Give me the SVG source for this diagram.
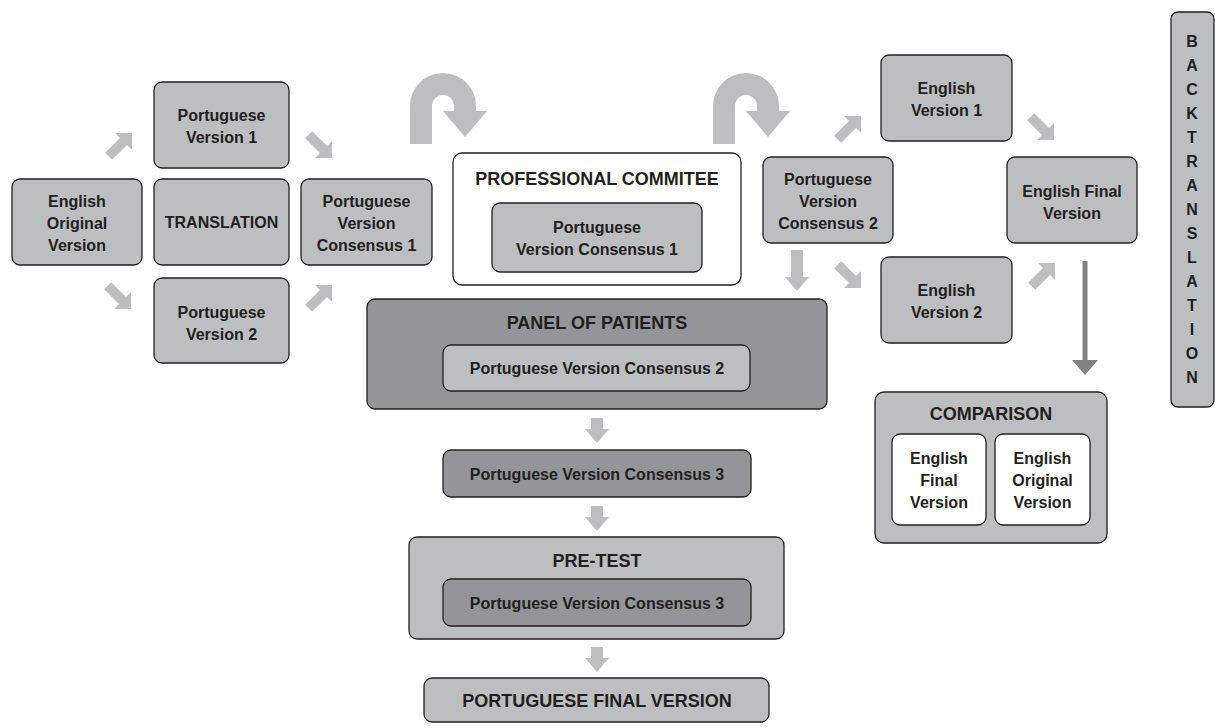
<svg xmlns="http://www.w3.org/2000/svg" width="1215" height="728" viewBox="0 0 1215 728">
<defs>
<style>
.bx{fill:#bcbec0;stroke:#231f20;stroke-width:1.3}
.dk{fill:#939598;stroke:#231f20;stroke-width:1.3}
.wh{fill:#ffffff;stroke:#231f20;stroke-width:1.3}
text{font-family:"Liberation Sans",Arial,sans-serif;font-weight:bold;fill:#231f20;text-anchor:middle}
.t{font-size:16px}
.h{font-size:18px}
.ar{fill:#bcbec0}
.ad{fill:#808285}
</style>
<path id="diag" d="M-33,-5 L-12,-5 L-12,-12 L0,0 L-12,12 L-12,5 L-33,5 Z"/>
<path id="uturn" d="M410,144 L410,106 A33,33 0 0 1 476,106 L476,111 L487,111 L465,137 L443,111 L454,111 L454,106 A11,11 0 0 0 432,106 L432,144 Z"/>
</defs>
<rect width="1215" height="728" fill="#ffffff"/>

<g id="connectors">
<use href="#diag" class="ar" transform="translate(132,133) rotate(-45)"/>
<use href="#diag" class="ar" transform="translate(332,158) rotate(45)"/>
<use href="#diag" class="ar" transform="translate(131,309) rotate(45)"/>
<use href="#diag" class="ar" transform="translate(332,285) rotate(-45)"/>
<use href="#diag" class="ar" transform="translate(861,116) rotate(-45)"/>
<use href="#diag" class="ar" transform="translate(1054,140) rotate(45)"/>
<use href="#diag" class="ar" transform="translate(861,288) rotate(45)"/>
<use href="#diag" class="ar" transform="translate(1055,263) rotate(-45)"/>
<use href="#uturn" class="ar"/>
<use href="#uturn" class="ar" transform="translate(303,0)"/>
<path class="ar" d="M791,250 L803,250 L803,277 L809,277 L797,291 L785,277 L791,277 Z"/>
<path class="ar" d="M591,418 L603,418 L603,429 L609,429 L597,443 L585,429 L591,429 Z"/>
<path class="ar" d="M591,506 L603,506 L603,517 L609,517 L597,531 L585,517 L591,517 Z"/>
<path class="ar" d="M591,647 L603,647 L603,658 L609,658 L597,672 L585,658 L591,658 Z"/>
<path class="ad" d="M1082.5,261 L1087.5,261 L1087.5,360 L1098,360 L1085,375 L1072,360 L1082.5,360 Z"/>
</g>

<g id="eov"><rect class="bx" x="12" y="179" width="130" height="86" rx="8"/>
<text class="t" x="77" y="207">English</text><text class="t" x="77" y="229">Original</text><text class="t" x="77" y="251">Version</text></g>
<g id="pv1"><rect class="bx" x="154" y="82" width="135" height="86" rx="8"/>
<text class="t" x="221.5" y="121">Portuguese</text><text class="t" x="221.5" y="143">Version 1</text></g>
<g id="translation"><rect class="bx" x="154" y="179" width="135" height="86" rx="8"/>
<text class="t" x="221.5" y="228">TRANSLATION</text></g>
<g id="pv2"><rect class="bx" x="154" y="278" width="135" height="85" rx="8"/>
<text class="t" x="221.5" y="318">Portuguese</text><text class="t" x="221.5" y="340">Version 2</text></g>
<g id="pvc1"><rect class="bx" x="301" y="179" width="131" height="86" rx="8"/>
<text class="t" x="366.5" y="207">Portuguese</text><text class="t" x="366.5" y="229">Version</text><text class="t" x="366.5" y="251">Consensus 1</text></g>

<g id="committee"><rect class="wh" x="453" y="153" width="288" height="132" rx="9"/>
<text class="h" x="597" y="185">PROFESSIONAL COMMITEE</text>
<rect class="bx" x="492" y="203" width="210" height="69" rx="8"/>
<text class="t" x="597" y="233">Portuguese</text><text class="t" x="597" y="255">Version Consensus 1</text></g>

<g id="panel"><rect class="dk" x="367" y="299" width="460" height="110" rx="8"/>
<text class="h" x="597" y="329">PANEL OF PATIENTS</text>
<rect class="bx" x="443" y="345" width="307" height="46" rx="8"/>
<text class="t" x="597" y="374">Portuguese Version Consensus 2</text></g>

<g id="pvc3"><rect class="dk" x="443" y="450" width="308" height="47" rx="8"/>
<text class="t" x="597" y="480">Portuguese Version Consensus 3</text></g>

<g id="pretest"><rect class="bx" x="409" y="537" width="375" height="102" rx="8"/>
<text class="h" x="597" y="567">PRE-TEST</text>
<rect class="dk" x="443" y="579" width="308" height="47" rx="8"/>
<text class="t" x="597" y="609">Portuguese Version Consensus 3</text></g>

<g id="final"><rect class="bx" x="424" y="678" width="345" height="44" rx="8"/>
<text class="h" x="597" y="707">PORTUGUESE FINAL VERSION</text></g>

<g id="pvc2"><rect class="bx" x="763" y="157" width="130" height="86" rx="8"/>
<text class="t" x="828" y="185">Portuguese</text><text class="t" x="828" y="207">Version</text><text class="t" x="828" y="229">Consensus 2</text></g>
<g id="ev1"><rect class="bx" x="881" y="55" width="131" height="86" rx="8"/>
<text class="t" x="946.5" y="94">English</text><text class="t" x="946.5" y="116">Version 1</text></g>
<g id="efv"><rect class="bx" x="1007" y="157" width="130" height="86" rx="8"/>
<text class="t" x="1072" y="197">English Final</text><text class="t" x="1072" y="219">Version</text></g>
<g id="ev2"><rect class="bx" x="881" y="257" width="131" height="86" rx="8"/>
<text class="t" x="946.5" y="296">English</text><text class="t" x="946.5" y="318">Version 2</text></g>

<g id="comparison"><rect class="bx" x="875" y="392" width="232" height="151" rx="9"/>
<text class="h" x="991" y="420">COMPARISON</text>
<rect class="wh" x="892" y="434" width="94" height="91" rx="8"/>
<text class="t" x="939" y="464">English</text><text class="t" x="939" y="486">Final</text><text class="t" x="939" y="508">Version</text>
<rect class="wh" x="995" y="434" width="95" height="91" rx="8"/>
<text class="t" x="1042.5" y="464">English</text><text class="t" x="1042.5" y="486">Original</text><text class="t" x="1042.5" y="508">Version</text></g>

<g id="backtranslation"><rect class="bx" x="1171" y="12" width="43" height="395" rx="7"/>
<text class="t" x="1192" y="47">B</text><text class="t" x="1192" y="71">A</text><text class="t" x="1192" y="95">C</text><text class="t" x="1192" y="119">K</text><text class="t" x="1192" y="143">T</text><text class="t" x="1192" y="167">R</text><text class="t" x="1192" y="191">A</text><text class="t" x="1192" y="215">N</text><text class="t" x="1192" y="239">S</text><text class="t" x="1192" y="263">L</text><text class="t" x="1192" y="287">A</text><text class="t" x="1192" y="311">T</text><text class="t" x="1192" y="335">I</text><text class="t" x="1192" y="359">O</text><text class="t" x="1192" y="383">N</text></g>
</svg>
